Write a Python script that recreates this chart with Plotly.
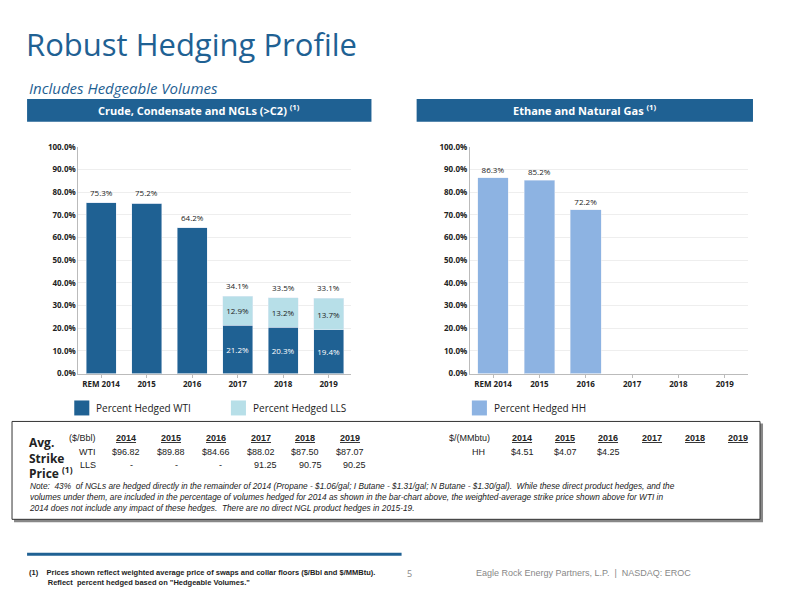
import plotly.graph_objects as go

# datos
years = ['REM 2014', '2015', '2016', '2017', '2018', '2019']
wti = [75.3, 75.2, 64.2, 21.2, 20.3, 19.4]
lls = [0, 0, 0, 12.9, 13.2, 13.7]
total = [75.3, 75.2, 64.2, 34.1, 33.5, 33.1]
hh = [86.3, 85.2, 72.2, None, None, None]
pct_ticks = [0, 10, 20, 30, 40, 50, 60, 70, 80, 90, 100]

tbl_years = ['2014', '2015', '2016', '2017', '2018', '2019']
wti_price = ['$96.82', '$89.88', '$84.66', '$88.02', '$87.50', '$87.07']
lls_price = ['-', '-', '-', '91.25', '90.75', '90.25']
hh_price = ['$4.51', '$4.07', '$4.25', '', '', '']

DARK = '#1f6193'
LIGHT = '#b7dfe8'
HHC = '#8db3e2'
TITLE = '#1f6193'
NARROW = 'Liberation Sans Narrow, Arial Narrow, sans-serif'

# convierte pixeles de la imagen a coordenadas de papel (con ligera corrección)
def px(x):
    return ((x - 8) / 0.996) / 800

def py(y):
    return 1 - ((y - 10) / 0.983) / 600

fig = go.Figure()
fig.add_trace(go.Bar(x=years, y=wti, marker_color=DARK, width=0.66,
                     text=[f'{v:.1f}%' if i >= 3 else '' for i, v in enumerate(wti)],
                     textposition='inside', insidetextanchor='middle',
                     textfont=dict(color='white', size=8), name='Percent Hedged WTI',
                     xaxis='x', yaxis='y', showlegend=False))
fig.add_trace(go.Bar(x=years, y=lls, marker_color=LIGHT, width=0.66,
                     text=[f'{v:.1f}%' if v else '' for v in lls],
                     textposition='inside', insidetextanchor='middle',
                     textfont=dict(color='#222', size=8), name='Percent Hedged LLS',
                     xaxis='x', yaxis='y', showlegend=False))
fig.add_trace(go.Bar(x=years, y=hh, marker_color=HHC, width=0.66,
                     text=[f'{v:.1f}%' if v else '' for v in hh],
                     textposition='outside', textfont=dict(color='#222', size=8),
                     cliponaxis=False, name='Percent Hedged HH',
                     xaxis='x2', yaxis='y2', showlegend=False))

ann = []
# totales encima de las barras (índice de categoría, no texto)
for i, t in enumerate(total):
    ann.append(dict(x=i, y=t, xref='x', yref='y', text=f'{t:.1f}%', showarrow=False,
                    yanchor='bottom', yshift=3, font=dict(size=8, color='#222')))

axis_common = dict(type='category', showgrid=False, tickfont=dict(size=8, color='#222'), showline=True,
                   linecolor='#bbb', ticks='outside', ticklen=3, tickcolor='#bbb',
                   categoryorder='array', categoryarray=years,
                   tickvals=years, ticktext=[f'<b>{y}</b>' for y in years])
yax_common = dict(range=[0, 100], tickvals=pct_ticks, ticktext=[f'<b>{t}.0%</b>' for t in pct_ticks],
                  showgrid=True, gridcolor='#eeeeee',
                  tickfont=dict(size=8, color='#222'), showline=True, linecolor='#bbb', zeroline=False)

shapes = []
# barras de encabezado
shapes.append(dict(type='rect', xref='paper', yref='paper', x0=px(27), x1=px(370), y0=py(118), y1=py(95),
                   fillcolor=DARK, line_width=0))
shapes.append(dict(type='rect', xref='paper', yref='paper', x0=px(415), x1=px(750), y0=py(118), y1=py(95),
                   fillcolor=DARK, line_width=0))
# cuadros de leyenda
for x0, c in [(74, DARK), (230, LIGHT), (470, HHC)]:
    shapes.append(dict(type='rect', xref='paper', yref='paper', x0=px(x0), x1=px(x0 + 15),
                       y0=py(412), y1=py(397), fillcolor=c, line_width=0))
# caja de la tabla con sombra
shapes.append(dict(type='rect', xref='paper', yref='paper', x0=px(14), x1=px(760), y0=py(519), y1=py(420),
                   fillcolor='#888', line_width=0))
shapes.append(dict(type='rect', xref='paper', yref='paper', x0=px(12), x1=px(757), y0=py(516), y1=py(418),
                   fillcolor='white', line=dict(color='#333', width=1)))
# línea del pie
shapes.append(dict(type='line', xref='paper', yref='paper', x0=px(27), x1=px(400), y0=py(551), y1=py(551),
                   line=dict(color=DARK, width=3)))

ann += [
    dict(x=px(24), y=py(40), text='Robust Hedging Profile', font=dict(size=31, color=TITLE, family='Open Sans'),
         xanchor='left', yanchor='middle'),
    dict(x=px(27), y=py(84), text='<i>Includes Hedgeable Volumes</i>', font=dict(size=15, color=TITLE, family='Open Sans'),
         xanchor='left', yanchor='middle'),
    dict(x=px(198), y=py(106), text='<b>Crude, Condensate and NGLs (>C2) <sup>(1)</sup></b>',
         font=dict(size=11, color='white'), xanchor='center', yanchor='middle'),
    dict(x=px(582), y=py(106), text='<b>Ethane and Natural Gas <sup>(1)</sup></b>',
         font=dict(size=11, color='white'), xanchor='center', yanchor='middle'),
    dict(x=px(94), y=py(405), text='Percent Hedged WTI', font=dict(size=10, color='#222'),
         xanchor='left', yanchor='middle'),
    dict(x=px(250), y=py(405), text='Percent Hedged LLS', font=dict(size=10, color='#222'),
         xanchor='left', yanchor='middle'),
    dict(x=px(490), y=py(405), text='Percent Hedged HH', font=dict(size=10, color='#222'),
         xanchor='left', yanchor='middle'),
    dict(x=px(27), y=py(455), text='<b>Avg.<br>Strike<br>Price <sup>(1)</sup></b>', font=dict(size=12, color='#222'),
         xanchor='left', yanchor='middle', align='left'),
]

small = dict(size=9, color='#222', family=NARROW)
ann.append(dict(x=px(98), y=py(435), text='($/Bbl)', font=small, xanchor='right', yanchor='middle'))
ann.append(dict(x=px(98), y=py(449), text='WTI', font=small, xanchor='right', yanchor='middle'))
ann.append(dict(x=px(98), y=py(462), text='LLS', font=small, xanchor='right', yanchor='middle'))
ann.append(dict(x=px(490), y=py(435), text='$/(MMbtu)', font=small, xanchor='right', yanchor='middle'))
ann.append(dict(x=px(485), y=py(449), text='HH', font=small, xanchor='right', yanchor='middle'))
for i, yr in enumerate(tbl_years):
    xl = 126 + i * 44.5
    ann.append(dict(x=px(xl), y=py(435), text=f'<b><u>{yr}</u></b>', font=small, xanchor='center', yanchor='middle'))
    ann.append(dict(x=px(xl), y=py(449), text=wti_price[i], font=small, xanchor='center', yanchor='middle'))
    ann.append(dict(x=px(xl + 5), y=py(462), text=lls_price[i], font=small, xanchor='center', yanchor='middle'))
    xr = 520 + i * 43
    ann.append(dict(x=px(xr), y=py(435), text=f'<b><u>{yr}</u></b>', font=small, xanchor='center', yanchor='middle'))
    ann.append(dict(x=px(xr), y=py(449), text=hh_price[i], font=small, xanchor='center', yanchor='middle'))

ann.append(dict(x=px(27), y=py(494),
                text='<i>Note:  43%  of NGLs are hedged directly in the remainder of 2014 (Propane - $1.06/gal; I Butane - $1.31/gal; N Butane - $1.30/gal).  While these direct product hedges, and the<br>'
                     'volumes under them, are included in the percentage of volumes hedged for 2014 as shown in the bar-chart above, the weighted-average strike price shown above for WTI in<br>'
                     '2014 does not include any impact of these hedges.  There are no direct NGL product hedges in 2015-19.</i>',
                font=dict(size=8.3, color='#222', family=NARROW),
                xanchor='left', yanchor='middle', align='left'))
ann.append(dict(x=px(27), y=py(574),
                text='<b>(1)    Prices shown reflect weighted average price of swaps and collar floors ($/Bbl and $/MMBtu).<br>'
                     '         Reflect  percent hedged based on "Hedgeable Volumes."</b>',
                font=dict(size=7.5, color='#222', family=NARROW),
                xanchor='left', yanchor='middle', align='left'))
ann.append(dict(x=px(408), y=py(570), text='5', font=dict(size=9, color='#888'), xanchor='center', yanchor='middle'))
ann.append(dict(x=px(690), y=py(570), text='Eagle Rock Energy Partners, L.P.  |  NASDAQ: EROC',
                font=dict(size=9, color='#888', family=NARROW),
                xanchor='right', yanchor='middle'))

for a in ann:
    if a.get('xref') is None:
        a['xref'] = 'paper'
        a['yref'] = 'paper'
    a.setdefault('showarrow', False)

fig.update_layout(
    width=800, height=600, margin=dict(l=0, r=0, t=0, b=0),
    paper_bgcolor='white', plot_bgcolor='white', barmode='stack', bargap=0.34,
    font=dict(family='Open Sans, Calibri, sans-serif'),
    xaxis=dict(domain=[px(78), px(350)], anchor='y', **axis_common),
    yaxis=dict(domain=[py(370), py(143)], anchor='x', **yax_common),
    xaxis2=dict(domain=[px(468), px(745)], anchor='y2', **axis_common),
    yaxis2=dict(domain=[py(370), py(143)], anchor='x2', **yax_common),
    shapes=shapes, annotations=ann, uniformtext=dict(minsize=7, mode='show'),
)

fig.write_html('out.html')
